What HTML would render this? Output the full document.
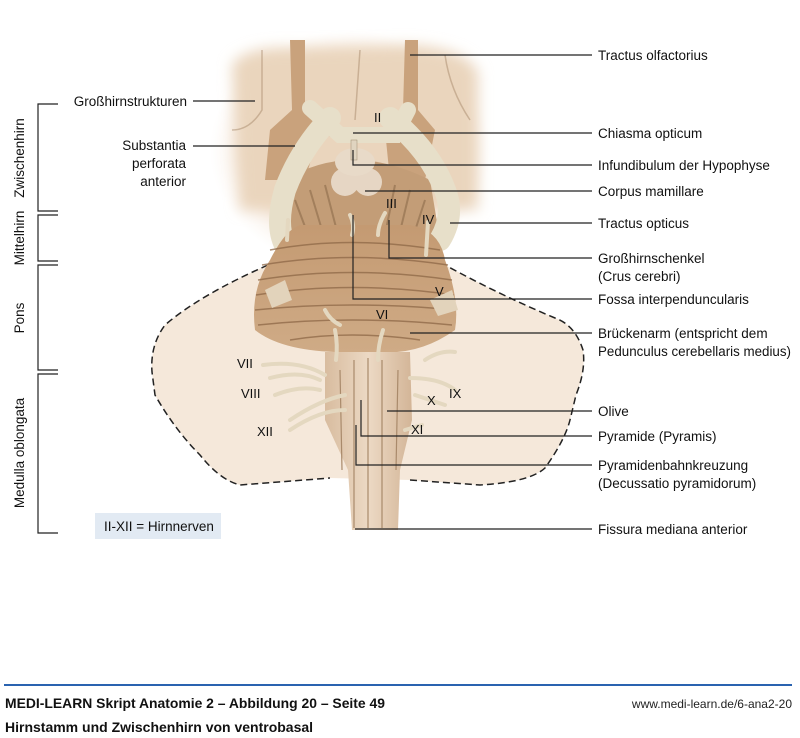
<!DOCTYPE html>
<html><head><meta charset="utf-8"><style>
body{margin:0;background:#fff;}
svg{display:block;font-family:"Liberation Sans",sans-serif;}
</style></head><body>
<svg width="800" height="738" viewBox="0 0 800 738" xmlns="http://www.w3.org/2000/svg">
<defs>
<radialGradient id="bg" cx="0.5" cy="0.5" r="0.5">
<stop offset="0" stop-color="#f2dfc9"/><stop offset="0.75" stop-color="#f6e9dc"/><stop offset="1" stop-color="#fbf4ee" stop-opacity="0"/>
</radialGradient>
<linearGradient id="pons" x1="0" y1="0" x2="0" y2="1">
<stop offset="0" stop-color="#c49a72"/><stop offset="1" stop-color="#cfab86"/>
</linearGradient>
<linearGradient id="med" x1="0" y1="0" x2="1" y2="0">
<stop offset="0" stop-color="#d8bc9f"/><stop offset="0.5" stop-color="#ecd9c4"/><stop offset="1" stop-color="#d3b597"/>
</linearGradient>
<filter id="soft" x="-20%" y="-20%" width="140%" height="140%"><feGaussianBlur stdDeviation="7"/></filter>
</defs>

<!-- cerebellum shaded area -->
<path d="M268,265 Q200,295 165,325 Q150,345 152,372 L155,395 Q175,430 200,455 Q220,480 240,485 L330,478 L410,480 L480,485 Q530,482 545,468 Q565,440 570,420 L576,395 Q586,370 583,350 Q575,325 555,318 Q500,295 445,265 Z" fill="#f5e8da"/>
<ellipse cx="350" cy="150" rx="140" ry="120" fill="url(#bg)"/>
<path d="M268,265 Q200,295 165,325 Q150,345 152,372 L155,395 Q175,430 200,455 Q220,480 240,485 L330,478 M410,480 L480,485 Q530,482 545,468 Q565,440 570,420 L576,395 Q586,370 583,350 Q575,325 555,318 Q500,295 445,265" fill="none" stroke="#222" stroke-width="1.5" stroke-dasharray="7,4"/>

<!-- cerebrum top -->
<path d="M232,65 Q245,45 300,48 L410,45 Q465,48 478,72 L478,210 L240,210 Z" fill="#ead5bd" filter="url(#soft)"/>
<path d="M262,50 L262,110 Q250,130 232,130 M300,60 L300,100 Q310,130 340,140 M360,50 L355,120 M445,55 Q450,90 470,120" stroke="#a8896c" stroke-width="1.5" fill="none" opacity="0.5"/>
<!-- olfactory tracts -->
<path d="M290,40 L292,110 L270,130 L265,180 L305,180 L320,130 L305,110 L305,40 Z" fill="#c9a27c"/>
<path d="M405,40 L403,110 L385,130 L390,180 L425,180 L435,130 L418,110 L418,40 Z" fill="#c9a27c"/>
<!-- hypothalamus / crus -->
<path d="M285,180 Q350,140 430,180 L440,240 L280,240 Z" fill="#c39d77"/>
<path d="M295,200 L310,240 M310,190 L325,240 M325,185 L338,235 M395,185 L385,235 M410,190 L398,240 M425,200 L412,240" stroke="#8c6a4b" stroke-width="2" fill="none" opacity="0.6"/>
<ellipse cx="345" cy="182" rx="14" ry="14" fill="#e6d6c4"/><ellipse cx="368" cy="182" rx="14" ry="14" fill="#e6d6c4"/>
<ellipse cx="355" cy="162" rx="20" ry="14" fill="#e8dac8"/>
<!-- optic chiasm and tracts -->
<path d="M330,118 Q300,150 285,190 Q275,225 285,245 M390,118 Q430,150 445,190 Q455,215 440,240" stroke="#e7dfc9" stroke-width="22" fill="none" stroke-linecap="round"/>
<path d="M310,108 L340,135 L395,135 L408,110" stroke="#e7dfc9" stroke-width="16" fill="none" stroke-linecap="round"/>
<rect x="351" y="140" width="6" height="20" fill="#e0d4c0" stroke="#9d8a70" stroke-width="0.5"/>
<!-- pons -->
<path d="M300,225 L410,225 Q440,230 445,260 Q460,300 455,330 Q420,355 380,352 L335,352 Q280,350 255,330 Q250,290 270,260 Q285,230 300,225 Z" fill="url(#pons)"/>
<g stroke="#8e6847" stroke-width="1.5" fill="none" opacity="0.75">
<path d="M270,250 Q350,235 440,250"/><path d="M262,265 Q350,250 448,265"/><path d="M258,280 Q350,265 452,280"/><path d="M256,295 Q350,280 454,295"/><path d="M255,310 Q350,300 455,310"/><path d="M258,325 Q350,315 452,325"/><path d="M290,340 Q350,330 420,340"/>
</g>
<path d="M265,290 L285,280 L292,300 L272,308 Z M430,300 L452,290 L458,310 L438,316 Z" fill="#e2d3bb"/>
<!-- medulla -->
<path d="M325,352 L410,352 L412,420 L400,470 L398,530 L352,530 L348,470 L325,420 Z" fill="url(#med)"/>
<path d="M354,360 L354,528 M368,358 L368,528 M382,360 L382,528 M340,370 L342,470 M398,370 L396,470" stroke="#a98a6b" stroke-width="1.2" fill="none"/>
<!-- nerves -->
<g stroke="#e4d8c0" stroke-width="4" fill="none" stroke-linecap="round">
<path d="M335,330 Q338,345 336,360"/><path d="M383,330 Q378,345 378,360"/>
<path d="M263,365 Q300,360 325,375"/><path d="M270,378 Q300,370 320,380"/><path d="M275,395 Q300,385 320,390"/>
<path d="M425,360 Q440,350 455,352"/><path d="M410,378 Q440,378 455,390"/>
<path d="M290,420 Q320,400 345,395"/><path d="M290,430 Q320,410 345,410"/>
<path d="M415,395 L445,405"/><path d="M405,430 L422,425"/>
<path d="M325,310 Q330,320 340,325"/>
<path d="M288,220 L287,240"/><path d="M428,222 L426,255"/>
<path d="M350,215 Q355,225 352,235"/><path d="M385,213 Q378,225 378,235"/>
</g>

<!-- roman numerals -->
<g font-size="13" fill="#111">
<text x="374" y="122">II</text><text x="386" y="208">III</text><text x="422" y="224">IV</text>
<text x="435" y="296">V</text><text x="376" y="319">VI</text><text x="237" y="368">VII</text>
<text x="241" y="398">VIII</text><text x="449" y="398">IX</text><text x="427" y="405">X</text>
<text x="411" y="434">XI</text><text x="257" y="436">XII</text>
</g>

<!-- leader lines -->
<g stroke="#222" stroke-width="1.2" fill="none">
<path d="M410,55 L592,55"/>
<path d="M353,133 L592,133"/>
<path d="M353,150 L353,165 L592,165"/>
<path d="M365,191 L592,191"/>
<path d="M450,223 L592,223"/>
<path d="M389,220 L389,258 L592,258"/>
<path d="M353,215 L353,299 L592,299"/>
<path d="M410,333 L592,333"/>
<path d="M387,411 L592,411"/>
<path d="M361,400 L361,436 L592,436"/>
<path d="M356,425 L356,465 L592,465"/>
<path d="M355,529 L592,529"/>
<path d="M193,101 L255,101"/>
<path d="M193,146 L295,146"/>
</g>
<g font-size="13.5" fill="#111">
<text x="598" y="60">Tractus olfactorius</text>
<text x="598" y="138">Chiasma opticum</text>
<text x="598" y="170">Infundibulum der Hypophyse</text>
<text x="598" y="196">Corpus mamillare</text>
<text x="598" y="228">Tractus opticus</text>
<text x="598" y="263">Großhirnschenkel</text>
<text x="598" y="281">(Crus cerebri)</text>
<text x="598" y="304">Fossa interpenduncularis</text>
<text x="598" y="338">Brückenarm (entspricht dem</text>
<text x="598" y="356" textLength="193" lengthAdjust="spacingAndGlyphs">Pedunculus cerebellaris medius)</text>
<text x="598" y="416">Olive</text>
<text x="598" y="441">Pyramide (Pyramis)</text>
<text x="598" y="470">Pyramidenbahnkreuzung</text>
<text x="598" y="488">(Decussatio pyramidorum)</text>
<text x="598" y="534">Fissura mediana anterior</text>
<text x="187" y="106" text-anchor="end">Großhirnstrukturen</text>
<text x="186" y="150" text-anchor="end">Substantia</text>
<text x="186" y="168" text-anchor="end">perforata</text>
<text x="186" y="186" text-anchor="end">anterior</text>
</g>

<!-- brackets -->
<g stroke="#222" stroke-width="1.2" fill="none">
<path d="M58,104 L38,104 L38,211 L58,211"/>
<path d="M58,215 L38,215 L38,261 L58,261"/>
<path d="M58,265 L38,265 L38,370 L58,370"/>
<path d="M58,374 L38,374 L38,533 L58,533"/>
</g>
<g font-size="13.5" fill="#111">
<text transform="translate(24,158) rotate(-90)" text-anchor="middle">Zwischenhirn</text>
<text transform="translate(24,238) rotate(-90)" text-anchor="middle">Mittelhirn</text>
<text transform="translate(24,318) rotate(-90)" text-anchor="middle">Pons</text>
<text transform="translate(24,453) rotate(-90)" text-anchor="middle">Medulla oblongata</text>
</g>
<rect x="95" y="513" width="126" height="26" fill="#e2eaf3"/>
<text x="104" y="531" font-size="13.5" fill="#111">II-XII = Hirnnerven</text>

<!-- footer -->
<rect x="4" y="684" width="788" height="2" fill="#2a63b0"/>
<text x="5" y="708" font-size="14" font-weight="bold" fill="#111" textLength="380" lengthAdjust="spacingAndGlyphs">MEDI-LEARN Skript Anatomie 2 – Abbildung 20 – Seite 49</text>
<text x="5" y="732" font-size="14" font-weight="bold" fill="#111">Hirnstamm und Zwischenhirn von ventrobasal</text>
<text x="792" y="708" font-size="12" fill="#222" text-anchor="end">www.medi-learn.de/6-ana2-20</text>
</svg>
</body></html>
